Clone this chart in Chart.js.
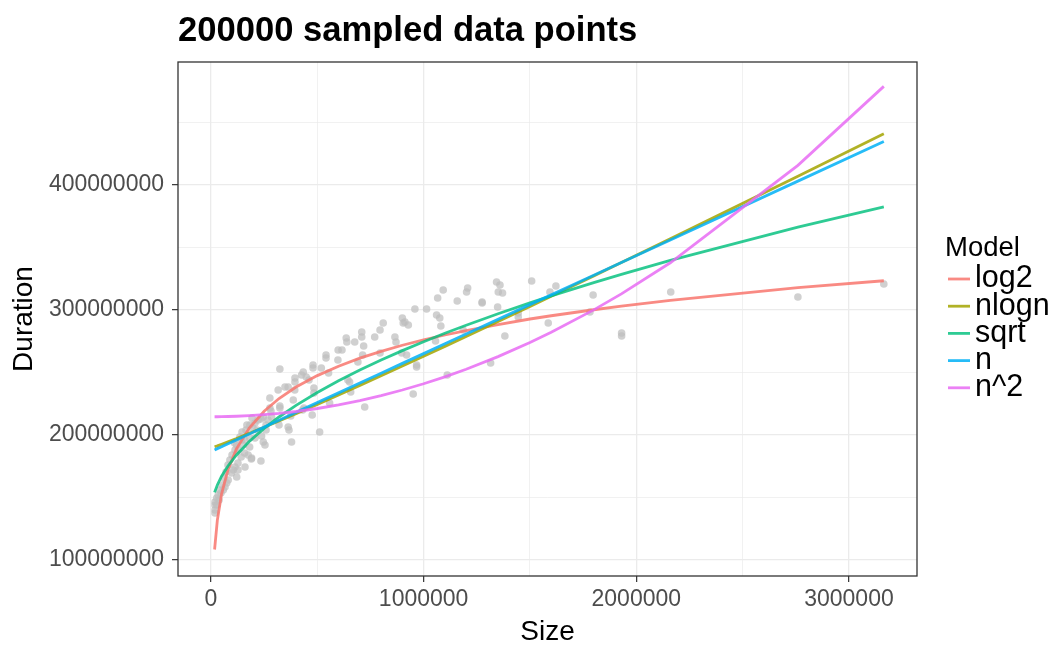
<!DOCTYPE html>
<html lang="en">
<head>
<meta charset="UTF-8">
<title>200000 sampled data points</title>
<script src="https://cdn.jsdelivr.net/npm/chart.js@4.4.1/dist/chart.umd.min.js"></script>
<style>
  html, body { margin: 0; padding: 0; background: #fff; }
</style>
</head>
<body>
<canvas id="durationChart" width="1059" height="648"></canvas>
<script>
  // sizes in thousands, durations in millions
  const SIZE_UNIT = 1e3;
  const DURATION_UNIT = 1e6;

  // sampled measurements
  const sampleSizes = [
    19, 19, 19, 19, 27, 34, 47, 58, 66, 74, 81, 97, 105, 113, 121, 160, 175, 191, 235, 136,
    144, 152, 121, 238, 246, 254, 207, 246, 235, 285, 320, 363, 367, 379, 277, 324, 324, 277, 282, 316,
    348, 363, 324, 387, 431, 395, 395, 434, 426, 183, 193, 207, 221, 182, 182, 158, 127, 111, 142, 127,
    158, 190, 127, 89, 99, 113, 80, 71, 61, 52, 42, 38, 28, 165, 169, 146, 197, 216, 259, 268,
    259, 437, 476, 480, 480, 519, 553, 448, 461, 394, 484, 484, 644, 652, 657, 558, 375, 511, 723, 541,
    541, 597, 598, 616, 636, 639, 676, 709, 709, 718, 770, 691, 713, 795, 810, 795, 865, 870, 904, 928,
    897, 920, 967, 967, 951, 900, 912, 959, 1014, 1061, 1076, 1081, 1066, 1092, 1158, 1202, 1207, 1275, 1275, 1351,
    1371, 1343, 1359, 1348, 1508, 1622, 1594, 1445, 1445, 1586, 1382, 1186, 1056, 1315, 1111, 1797, 1782, 1931, 1931, 2162,
    2760, 3164
  ];
  const sampleDurations = [
    137.6, 140, 144, 146.4, 149.6, 152, 153.6, 156, 158.4, 161.6, 164, 169.6, 172, 174.4, 166.4, 174.4, 184, 181.6, 179.2, 198.4,
    196, 192, 192, 199.2, 194.4, 192, 197.6, 214.4, 212.8, 214.4, 208, 206.4, 204, 194.4, 229.6, 223.2, 221.6, 221.6, 219.2, 236,
    238.4, 238.4, 252.8, 228, 220, 245.6, 242.4, 250.4, 248, 208, 213.6, 209.6, 212, 197.6, 190.4, 196, 188, 193.6, 182.4, 177.6,
    185.6, 180.8, 172, 180, 184, 188, 176, 170.4, 165.6, 160, 156, 148, 144, 204, 208, 202.4, 205.6, 204, 208, 212,
    204, 221.6, 216, 256, 253.6, 253.6, 249.6, 246.4, 244, 236, 237.6, 233.6, 244, 242.4, 234.4, 225.6, 215.2, 202.4, 222.4, 264,
    261.6, 260, 268, 268, 277.6, 274.4, 274.4, 282.4, 278.4, 271.2, 278.4, 258.4, 264, 265.6, 289.6, 284, 278.4, 274.4, 289.6, 288,
    265.6, 264, 256, 254.4, 232.8, 293.6, 290.4, 300.8, 300.8, 296, 293.6, 287.2, 309.6, 316, 307.2, 314.4, 317.6, 306.4, 305.6, 314.4,
    313.6, 322.4, 320, 302.4, 323.2, 319.2, 314.4, 297.6, 294.4, 289.6, 279.2, 284, 275.2, 257.6, 248, 312, 298.4, 281.6, 279.2, 314.4,
    310.4, 320.8
  ];

  // fitted model predictions
  const fitSizes = [17, 30, 50, 80, 120, 180, 250, 320, 400, 500, 600, 700, 800, 900, 1000, 1100, 1200, 1350, 1500, 1600, 1800, 1930, 2160, 2760, 3164];
  const log2Fit  = [108.4, 131.8, 152.9, 172.3, 188.9, 205.6, 219.0, 229.2, 238.4, 247.5, 255.0, 261.5, 266.9, 271.8, 276.1, 280.0, 283.5, 288.3, 292.8, 295.4, 300.2, 303.1, 307.7, 317.9, 323.4];
  const nlognFit = [190.6, 191.3, 192.6, 194.5, 197.1, 201.3, 206.2, 211.2, 217.1, 224.5, 232.1, 239.7, 247.4, 255.2, 263.0, 270.9, 278.8, 290.8, 302.9, 311.0, 327.3, 338.0, 356.9, 407.0, 441.0];
  const sqrtFit  = [154.1, 160.0, 167.0, 175.2, 184.0, 194.8, 205.3, 214.4, 223.7, 234.0, 243.4, 252.0, 260.0, 267.5, 274.6, 281.4, 287.8, 297.0, 305.7, 311.3, 321.9, 328.5, 339.7, 366.3, 382.5];
  const nFit     = [188.0, 189.1, 190.6, 193.0, 196.1, 200.8, 206.3, 211.8, 218.1, 225.9, 233.7, 241.6, 249.4, 257.3, 265.1, 273.0, 280.8, 292.5, 304.3, 312.1, 327.8, 338.0, 356.0, 403.1, 434.8];
  const n2Fit    = [214.6, 214.6, 214.7, 214.8, 215.0, 215.5, 216.3, 217.3, 218.8, 221.2, 224.1, 227.5, 231.5, 236.0, 241.0, 246.5, 252.6, 262.7, 274.0, 282.2, 300.1, 312.9, 337.8, 415.7, 478.9];

  const modelNames = ['log2', 'nlogn', 'sqrt', 'n', 'n^2'];
  const modelFits = [log2Fit, nlognFit, sqrtFit, nFit, n2Fit];
  const modelColors = ['rgba(248,118,109,0.85)', 'rgba(163,165,0,0.85)', 'rgba(0,191,125,0.82)', 'rgba(0,176,246,0.85)', 'rgba(231,107,243,0.85)'];

  // grid positions (major ones get labels)
  const xGridValues = [0, 500000, 1000000, 1500000, 2000000, 2500000, 3000000];
  const xTickLabels = [0, 1000000, 2000000, 3000000];
  const yGridValues = [100000000, 150000000, 200000000, 250000000, 300000000, 350000000, 400000000, 450000000];
  const yTickLabels = [100000000, 200000000, 300000000, 400000000];

  const FONT = '"Liberation Sans", Arial, Helvetica, sans-serif';

  const datasets = [{
    type: 'scatter',
    label: 'samples',
    data: sampleSizes.map((s, i) => ({ x: s * SIZE_UNIT, y: sampleDurations[i] * DURATION_UNIT })),
    pointRadius: 3.8,
    pointBackgroundColor: 'rgba(190,190,190,0.72)',
    pointBorderWidth: 0,
    order: 10
  }];
  modelNames.forEach((name, i) => {
    datasets.push({
      type: 'line',
      label: name,
      data: fitSizes.map((s, j) => ({ x: s * SIZE_UNIT, y: modelFits[i][j] * DURATION_UNIT })),
      borderColor: modelColors[i],
      borderWidth: 2.8,
      pointRadius: 0,
      tension: 0,
      fill: false,
      order: 5 - i
    });
  });

  const isMajor = (labels, c) => !!(c.tick && labels.includes(c.tick.value));

  // title, axis titles, panel border and legend
  const decorations = {
    id: 'decorations',
    afterDatasetsDraw(chart) {
      const { ctx, chartArea: a } = chart;
      ctx.save();
      ctx.strokeStyle = '#333333';
      ctx.lineWidth = 1.3;
      ctx.strokeRect(a.left, a.top, a.right - a.left, a.bottom - a.top);
      ctx.restore();
    },
    afterDraw(chart) {
      const { ctx, chartArea: a } = chart;
      ctx.save();
      ctx.fillStyle = '#000';

      ctx.font = 'bold 34.6px ' + FONT;
      ctx.textAlign = 'left';
      ctx.textBaseline = 'alphabetic';
      ctx.fillText('200000 sampled data points', a.left, 41);

      ctx.font = '28px ' + FONT;
      ctx.textAlign = 'center';
      ctx.textBaseline = 'middle';
      ctx.fillText('Size', (a.left + a.right) / 2, 632);

      ctx.save();
      ctx.translate(24, (a.top + a.bottom) / 2);
      ctx.rotate(-Math.PI / 2);
      ctx.fillText('Duration', 0, 0);
      ctx.restore();

      // legend
      ctx.textAlign = 'left';
      ctx.font = '27.5px ' + FONT;
      ctx.fillText('Model', 945, 248);
      ctx.font = '30.5px ' + FONT;
      chart.data.datasets.filter(d => d.type === 'line').forEach((d, i) => {
        const y = 279 + i * 27.2;
        ctx.strokeStyle = d.borderColor;
        ctx.lineWidth = 2.8;
        ctx.beginPath();
        ctx.moveTo(948, y);
        ctx.lineTo(970, y);
        ctx.stroke();
        ctx.fillStyle = '#000';
        ctx.fillText(d.label, 975, y);
      });
      ctx.restore();
    }
  };

  new Chart(document.getElementById('durationChart').getContext('2d'), {
    data: { datasets: datasets },
    options: {
      responsive: false,
      animation: false,
      devicePixelRatio: 1,
      layout: { padding: { left: 0, right: 142, top: 62, bottom: 0 } },
      plugins: { legend: { display: false }, tooltip: { enabled: false } },
      scales: {
        x: {
          type: 'linear',
          min: -155000,
          max: 3320000,
          afterBuildTicks: s => { s.ticks = xGridValues.map(v => ({ value: v })); },
          ticks: {
            autoSkip: false,
            maxRotation: 0,
            padding: 4,
            color: '#4D4D4D',
            font: { family: FONT, size: 23 },
            callback: v => (xTickLabels.includes(v) ? String(v) : '')
          },
          grid: {
            color: '#EBEBEB',
            lineWidth: c => (isMajor(xTickLabels, c) ? 1.3 : 0.7),
            tickLength: 6,
            tickWidth: 1.2,
            tickColor: c => (isMajor(xTickLabels, c) ? '#333333' : 'rgba(0,0,0,0)')
          },
          border: { display: false },
          afterFit: s => { s.height = 72; }
        },
        y: {
          type: 'linear',
          min: 87200000,
          max: 498400000,
          afterBuildTicks: s => { s.ticks = yGridValues.map(v => ({ value: v })); },
          ticks: {
            autoSkip: false,
            padding: 8,
            color: '#4D4D4D',
            font: { family: FONT, size: 23 },
            callback: v => (yTickLabels.includes(v) ? String(v) : '')
          },
          grid: {
            color: '#EBEBEB',
            lineWidth: c => (isMajor(yTickLabels, c) ? 1.3 : 0.7),
            tickLength: 6,
            tickWidth: 1.2,
            tickColor: c => (isMajor(yTickLabels, c) ? '#333333' : 'rgba(0,0,0,0)')
          },
          border: { display: false },
          afterFit: s => { s.width = 178; }
        }
      }
    },
    plugins: [decorations]
  });
</script>
</body>
</html>
